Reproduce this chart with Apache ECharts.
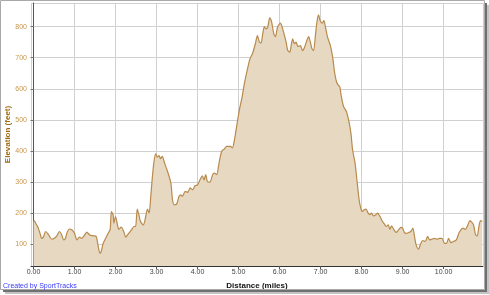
<!DOCTYPE html>
<html>
<head>
<meta charset="utf-8">
<script src="https://cdn.jsdelivr.net/npm/echarts@6/dist/echarts.min.js"></script>
<style>
html,body{margin:0;padding:0;background:#fff;}
#chart{width:489px;height:295px;}
</style>
</head>
<body>
<div id="chart"></div>
<script>
const distances = [0,0.02,0.06,0.11,0.16,0.2,0.24,0.3,0.37,0.45,0.51,0.57,0.63,0.68,0.74,0.78,0.82,0.88,0.94,1.0,1.06,1.12,1.18,1.25,1.3,1.37,1.47,1.53,1.58,1.62,1.65,1.7,1.76,1.82,1.87,1.9,1.94,1.96,2.0,2.04,2.08,2.14,2.2,2.25,2.32,2.4,2.45,2.49,2.53,2.57,2.61,2.68,2.72,2.78,2.82,2.86,2.9,2.94,2.98,3.02,3.06,3.1,3.14,3.2,3.27,3.35,3.39,3.43,3.49,3.55,3.59,3.63,3.7,3.76,3.82,3.88,3.94,4.0,4.07,4.12,4.16,4.2,4.24,4.3,4.37,4.41,4.47,4.51,4.54,4.59,4.65,4.71,4.8,4.85,4.9,4.96,5.02,5.08,5.15,5.22,5.28,5.34,5.41,5.46,5.51,5.55,5.59,5.63,5.67,5.71,5.76,5.8,5.86,5.9,5.95,6.02,6.06,6.12,6.16,6.2,6.25,6.29,6.32,6.36,6.4,6.45,6.51,6.56,6.61,6.67,6.71,6.75,6.79,6.83,6.87,6.91,6.95,6.99,7.04,7.08,7.12,7.17,7.24,7.3,7.34,7.39,7.43,7.47,7.5,7.56,7.63,7.69,7.74,7.78,7.84,7.89,7.94,7.98,8.02,8.06,8.11,8.16,8.2,8.24,8.29,8.35,8.39,8.45,8.51,8.55,8.6,8.65,8.69,8.73,8.79,8.84,8.9,8.96,9.0,9.04,9.09,9.15,9.2,9.25,9.29,9.33,9.39,9.43,9.49,9.55,9.61,9.66,9.71,9.77,9.84,9.9,9.96,10.02,10.07,10.12,10.18,10.24,10.31,10.37,10.42,10.47,10.53,10.59,10.64,10.69,10.73,10.78,10.82,10.86,10.9,10.94];
const elevations = [173,175,166,155,135,119,123,141,130,116,119,127,141,133,114,119,138,149,146,135,114,123,119,130,139,130,127,125,92,71,76,103,119,135,148,205,195,168,189,168,148,155,141,123,135,148,157,157,213,195,173,162,178,213,200,254,318,367,391,380,385,375,383,360,334,297,243,227,229,254,259,254,270,267,281,275,288,291,310,320,307,324,302,300,324,329,324,350,372,399,406,415,415,410,436,484,532,569,622,665,697,713,745,771,750,748,777,800,793,798,828,819,777,768,798,811,800,771,750,723,718,745,761,745,750,736,739,723,734,757,768,750,729,723,766,814,838,819,811,819,798,766,739,697,654,622,612,606,580,543,527,495,457,404,361,302,243,216,205,211,213,200,195,200,191,195,200,189,173,166,157,162,148,159,146,138,146,154,152,138,135,138,141,152,125,98,84,98,112,109,125,114,116,119,116,119,119,103,103,119,105,109,114,135,146,152,148,162,176,170,162,130,127,157,176,173];
const xTitle = 'Distance (miles)';
const yTitle = 'Elevation (feet)';
const credit = 'Created by SportTracks';

const data = distances.map((d, i) => [d, elevations[i]]);

const chart = echarts.init(document.getElementById('chart'), null, {renderer: 'canvas'});
chart.setOption({
  animation: false,
  backgroundColor: '#ffffff',
  grid: {left: 31, right: 6, top: 3, bottom: 29, containLabel: false, outerBoundsMode: 'none'},
  xAxis: {
    type: 'value',
    min: -0.06,
    max: 10.96,
    minInterval: 1,
    maxInterval: 1,
    splitNumber: 11,
    name: xTitle,
    nameLocation: 'middle',
    nameGap: 16,
    nameMoveOverlap: false,
    nameTextStyle: {fontFamily: 'Liberation Sans', fontSize: 8, fontWeight: 'bold', color: '#111'},
    axisLine: {show: true, lineStyle: {color: '#333', width: 1}},
    axisTick: {show: true, length: 3, lineStyle: {color: '#555'}},
    axisLabel: {
      fontFamily: 'Liberation Sans', fontSize: 7, color: '#444', margin: 3,
      showMinLabel: false, showMaxLabel: false,
      formatter: v => v.toFixed(2)
    },
    splitLine: {show: true, lineStyle: {color: '#d0d0d0', width: 1}}
  },
  yAxis: {
    type: 'value',
    min: 30,
    max: 876,
    minInterval: 100,
    maxInterval: 100,
    splitNumber: 8,
    name: yTitle,
    nameLocation: 'middle',
    nameGap: 19,
    nameRotate: 90,
    nameMoveOverlap: false,
    nameTextStyle: {fontFamily: 'Liberation Sans', fontSize: 8, fontWeight: 'bold', color: '#a06b12'},
    axisLine: {show: true, lineStyle: {color: '#555', width: 1}},
    axisTick: {show: true, length: 3, lineStyle: {color: '#777'}},
    axisLabel: {
      fontFamily: 'Liberation Sans', fontSize: 7, color: '#c8964a', margin: 4,
      showMinLabel: false, showMaxLabel: false
    },
    splitLine: {show: true, lineStyle: {color: '#d0d0d0', width: 1}}
  },
  series: [{
    type: 'line',
    data: data,
    smooth: 0.25,
    symbol: 'none',
    lineStyle: {color: '#b88a4c', width: 1.2},
    areaStyle: {color: '#e6d8c1', opacity: 1},
    z: 3
  }],
  graphic: [
    {type: 'rect', z: 100, shape: {x: 0.5, y: 0.5, width: 484, height: 289}, style: {fill: 'none', stroke: '#a8a8a8', lineWidth: 1}},
    {type: 'rect', z: 100, shape: {x: 485, y: 3, width: 2, height: 289}, style: {fill: '#707070'}},
    {type: 'rect', z: 100, shape: {x: 487, y: 5, width: 2, height: 289}, style: {fill: '#c4c4c4'}},
    {type: 'rect', z: 100, shape: {x: 3, y: 290, width: 484, height: 2}, style: {fill: '#707070'}},
    {type: 'rect', z: 100, shape: {x: 5, y: 292, width: 484, height: 2}, style: {fill: '#c4c4c4'}},
    {type: 'text', z: 100, left: 3, top: 283, style: {text: credit, fontFamily: 'Liberation Sans', fontSize: 7, fill: '#3a3aff'}}
  ]
});
</script>
</body>
</html>
